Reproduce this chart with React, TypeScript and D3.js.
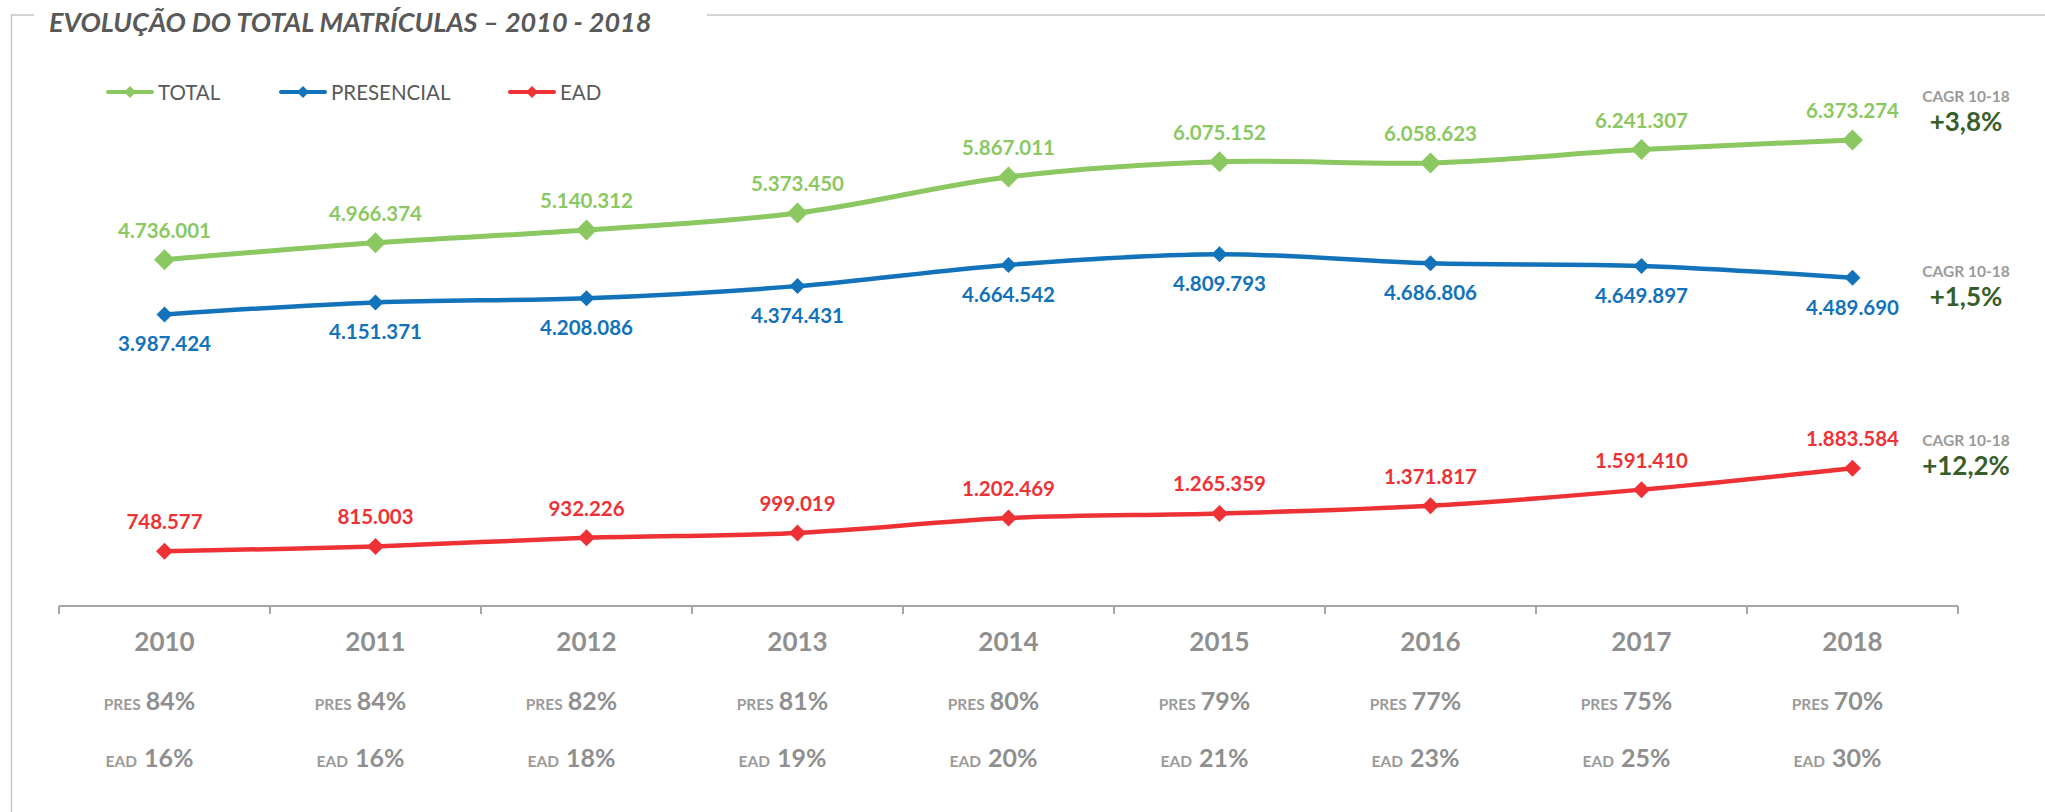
import * as d3 from "d3";

const years = ["2010", "2011", "2012", "2013", "2014", "2015", "2016", "2017", "2018"];
const totalValues = [4736001, 4966374, 5140312, 5373450, 5867011, 6075152, 6058623, 6241307, 6373274];
const presencialValues = [3987424, 4151371, 4208086, 4374431, 4664542, 4809793, 4686806, 4649897, 4489690];
const eadValues = [748577, 815003, 932226, 999019, 1202469, 1265359, 1371817, 1591410, 1883584];
const presShare = [84, 84, 82, 81, 80, 79, 77, 75, 70];
const eadShare = [16, 16, 18, 19, 20, 21, 23, 25, 30];
const cagrLabels = ["+3,8%", "+1,5%", "+12,2%"];

const W = 2045;
const H = 812;
const FONT = "Lato, 'Open Sans', sans-serif";

const GREEN = "#8bc862";
const BLUE = "#1272ba";
const RED = "#ee3135";
const GRAY = "#8f8f8f";

const fmt = (v: number) => d3.format(",")(v).replace(/,/g, ".");

export default function App() {
  const x = d3.scaleBand().domain(years).range([59, 1958]);
  const cx = (i: number) => (x(years[i]) as number) + x.bandwidth() / 2;
  const y = d3.scaleLinear().domain([0, 8000000]).range([606, 21]);

  const line = d3
    .line<number>()
    .x((_, i) => cx(i))
    .y((d) => y(d))
    .curve(d3.curveCatmullRom.alpha(0.5));

  const series = [
    { name: "TOTAL", values: totalValues, color: GREEN, width: 5, marker: 10.5, labelDy: -22, cagrY: 101.7 },
    { name: "PRESENCIAL", values: presencialValues, color: BLUE, width: 4.5, marker: 8, labelDy: 37, cagrY: 276.7 },
    { name: "EAD", values: eadValues, color: RED, width: 4.5, marker: 8.5, labelDy: -22, cagrY: 445.7 },
  ];

  const legendX = [108, 281, 510];
  const diamond = (r: number) => `M0,${-r}L${r},0L0,${r}L${-r},0Z`;
  const ticks = d3.range(years.length + 1).map((k) => 59 + k * x.bandwidth());

  return (
    <svg
      width={W}
      height={H}
      style={{ position: "absolute", left: 0, top: 0, background: "#fff" }}
      fontFamily={FONT}
    >
      {/* frame */}
      <path d="M34,15H11.5V812M707,15H2045" fill="none" stroke="#c6c6c6" strokeWidth={1.5} />
      <text x={49} y={32} fontSize={27} fontWeight={700} fontStyle="italic" fill="#595959">
        EVOLUÇÃO DO TOTAL MATRÍCULAS – 2010 - 2018
      </text>

      {/* legend */}
      {series.map((s, i) => (
        <g key={s.name} transform={`translate(${legendX[i]},92)`}>
          <line x1={0} x2={44} stroke={s.color} strokeWidth={4} strokeLinecap="round" />
          <path d={diamond(6)} transform="translate(22,0)" fill={s.color} />
          <text x={50} y={7.5} fontSize={20.5} fill="#595959">
            {s.name}
          </text>
        </g>
      ))}

      {/* axis */}
      <line x1={59} x2={1958} y1={606} y2={606} stroke="#a6a6a6" strokeWidth={2} />
      {ticks.map((t) => (
        <line key={t} x1={t} x2={t} y1={606} y2={614} stroke="#a6a6a6" strokeWidth={2} />
      ))}
      {years.map((yr, i) => (
        <g key={yr}>
          <text x={cx(i)} y={651} textAnchor="middle" fontSize={26} fontWeight={700} fill={GRAY}>
            {yr}
          </text>
          <text x={cx(i) - 15} y={709.5} textAnchor="middle" fill={GRAY} fontWeight={700}>
            <tspan fontSize={15.5} fill="#9a9a9a">PRES</tspan>
            <tspan fontSize={25} dx={5}>{presShare[i]}%</tspan>
          </text>
          <text x={cx(i) - 15} y={766.5} textAnchor="middle" fill={GRAY} fontWeight={700}>
            <tspan fontSize={15.5} fill="#9a9a9a">EAD</tspan>
            <tspan fontSize={25} dx={7}>{eadShare[i]}%</tspan>
          </text>
        </g>
      ))}

      {/* series */}
      {series.map((s) => (
        <g key={s.name}>
          <path d={line(s.values) || ""} fill="none" stroke={s.color} strokeWidth={s.width} />
          {s.values.map((v, i) => (
            <path key={i} d={diamond(s.marker)} transform={`translate(${cx(i)},${y(v)})`} fill={s.color} />
          ))}
          {s.values.map((v, i) => (
            <text
              key={"l" + i}
              x={cx(i)}
              y={y(v) + s.labelDy}
              textAnchor="middle"
              fontSize={20.5}
              fontWeight={700}
              fill={s.color}
            >
              {fmt(v)}
            </text>
          ))}
        </g>
      ))}

      {/* CAGR */}
      {series.map((s, i) => (
        <g key={"c" + s.name}>
          <text x={1966} y={s.cagrY} textAnchor="middle" fontSize={15.5} fontWeight={700} fill="#9a9a9a">
            CAGR 10-18
          </text>
          <text x={1966} y={s.cagrY + 29.5} textAnchor="middle" fontSize={26} fontWeight={700} fill="#375e2a">
            {cagrLabels[i]}
          </text>
        </g>
      ))}
    </svg>
  );
}
